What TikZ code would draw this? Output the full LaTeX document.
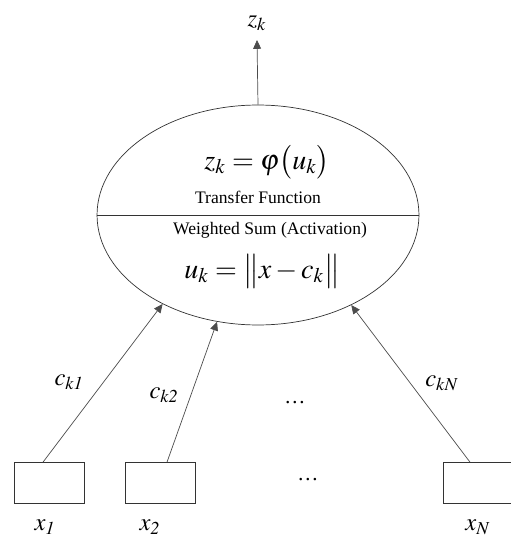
\documentclass[tikz,border=0pt]{standalone}
\usepackage{mathptmx}
\usepackage{fontspec}
\setmainfont{Liberation Serif}
\newfontfamily\labelfont{Liberation Serif}
\usetikzlibrary{arrows.meta,shapes.geometric,positioning}

\begin{document}
\begin{tikzpicture}[x=0.02cm,y=-0.02cm,
every node/.style={inner sep=0pt},
inbox/.style={draw=black!80,rectangle,minimum width=1.4cm,minimum height=0.82cm},
link/.style={draw=black!70,-{Triangle[length=5pt,width=4.5pt]}}]
\useasboundingbox (0,0) rectangle (510,537);
% neuron
\node[ellipse,draw=black!80,minimum width=6.44cm,minimum height=4.4cm] (neuron) at (258,215) {};
\draw[black!80] (neuron.west)--(neuron.east);
\node (out) at (257,23) {\fontsize{14}{16}\selectfont $z_k$};
\draw[link] (neuron.north)--(257,40) coordinate (tip);
\node (transfer) at (267,162) {\fontsize{16}{18}\selectfont $z_k=\varphi\bigl(u_k\bigr)$};
\node (tflabel) at (258,197) {\labelfont\fontsize{10}{12}\selectfont Transfer Function};
\node (wslabel) at (270,230) {\labelfont\fontsize{10}{12}\selectfont Weighted Sum (Activation)};
\node (dist) at (262,271) {\fontsize{16}{18}\selectfont $u_k=\bigl\|x-c_k\bigr\|$};
% inputs
\node[inbox] (in1) at (49,483) {};
\node[inbox] (in2) at (160,483) {};
\node[inbox] (inN) at (478,483) {};
\node (x1) at (45,527) {\fontsize{14}{16}\selectfont $x_{\mathit{1}}$};
\node (x2) at (150,527) {\fontsize{14}{16}\selectfont $x_{\mathit{2}}$};
\node (xN) at (478,527) {\fontsize{14}{16}\selectfont $x_{N}$};
\node (dotsA) at (295,403) {\labelfont\fontsize{12}{14}\selectfont \ldots};
\node (dotsB) at (308,480) {\labelfont\fontsize{12}{14}\selectfont \ldots};
\draw[link] ([xshift=-0.12cm]in1.north)--(neuron.223);
\draw[link] ([xshift=0.14cm]in2.north)--(neuron.249);
\draw[link] ([xshift=-0.16cm]inN.north)--(neuron.316);
\node (w1) at (69,382) {\fontsize{14}{16}\selectfont $c_{\mathit{k1}}$};
\node (w2) at (164,395) {\fontsize{14}{16}\selectfont $c_{\mathit{k2}}$};
\node (wN) at (442,383) {\fontsize{14}{16}\selectfont $c_{kN}$};
\end{tikzpicture}
\end{document}
